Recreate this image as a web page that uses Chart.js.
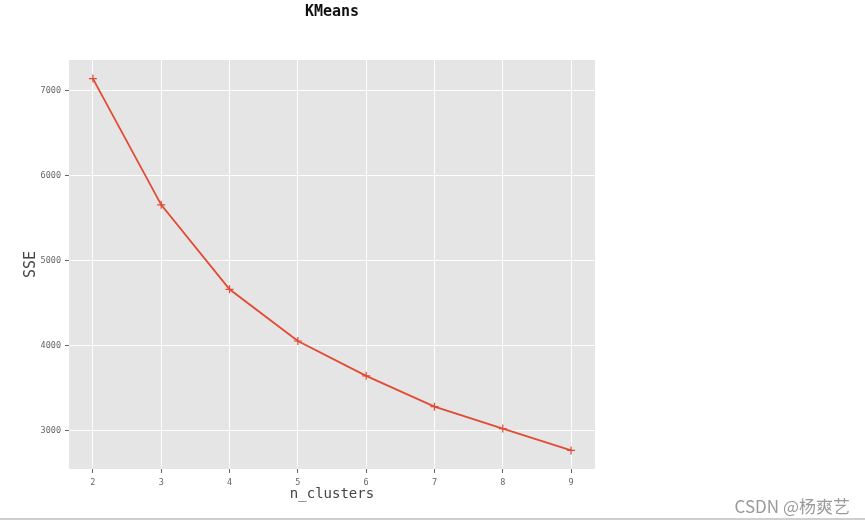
<!DOCTYPE html>
<html lang="en">
  <head>
    <meta charset="UTF-8" />
    <title>KMeans</title>
    <script src="https://cdn.jsdelivr.net/npm/chart.js@4"></script>
    <style>
      body { margin: 0; background: #fff; }
      #wrap { position: relative; width: 865px; height: 525px; overflow: hidden; }
      #mark { position: absolute; right: 15px; top: 493px; font: 17px "Noto Sans CJK SC", "DejaVu Sans", sans-serif; color: #9a9a9a; }
      #rule { position: absolute; left: 0; top: 518px; width: 865px; height: 2px; background: #cfcfcf; }
    </style>
  </head>
  <body>
    <div id="wrap">
      <canvas id="myChart" width="865" height="525"></canvas>
      <div id="mark">CSDN @杨爽艺</div>
      <div id="rule"></div>
    </div>

    <script>
      // elbow curve
      const nClusters = [2, 3, 4, 5, 6, 7, 8, 9];
      const sse = [7140, 5655, 4661, 4053, 3643, 3281, 3023, 2766];
      const xTicks = [2, 3, 4, 5, 6, 7, 8, 9];
      const yTicks = [3000, 4000, 5000, 6000, 7000];

      // matplotlib-like 5% margins
      const xPad = (Math.max(...nClusters) - Math.min(...nClusters)) * 0.05;
      const yPad = (Math.max(...sse) - Math.min(...sse)) * 0.05;

      const plotBg = {
        id: 'plotBg',
        beforeDraw(chart) {
          const { ctx, chartArea: a } = chart;
          ctx.save();
          ctx.fillStyle = '#e5e5e5';
          ctx.fillRect(a.left, a.top, a.right - a.left, a.bottom - a.top);
          ctx.restore();
        }
      };

      const tickFont = { family: 'DejaVu Sans Mono', size: 8.5 };

      new Chart(document.getElementById('myChart'), {
        type: 'line',
        data: {
          datasets: [{
            data: nClusters.map((n, i) => ({ x: n, y: sse[i] })),
            borderColor: '#e24a33',
            backgroundColor: '#e24a33',
            borderWidth: 1.8,
            tension: 0,
            pointStyle: 'cross',
            pointRadius: 4,
            pointBorderWidth: 1.2,
            pointHoverRadius: 4
          }]
        },
        options: {
          responsive: false,
          animation: false,
          layout: { padding: { right: 270, top: 0, bottom: 0, left: 0 } },
          plugins: {
            legend: { display: false },
            tooltip: { enabled: false },
            title: {
              display: true,
              text: 'KMeans',
              fullSize: false,
              color: '#111',
              font: { family: 'DejaVu Sans Mono', size: 15, weight: 'bold', lineHeight: 1.2 },
              padding: { top: 3, bottom: 39 }
            }
          },
          scales: {
            x: {
              type: 'linear',
              min: Math.min(...nClusters) - xPad,
              max: Math.max(...nClusters) + xPad,
              afterBuildTicks: s => { s.ticks = xTicks.map(v => ({ value: v })); },
              afterFit: s => { s.height = 56; },
              border: { display: false },
              grid: { color: '#ffffff', lineWidth: 1, tickColor: '#666', tickLength: 4 },
              ticks: { color: '#666', font: tickFont, padding: 5, maxRotation: 0, callback: v => String(v) },
              title: {
                display: true,
                text: 'n_clusters',
                color: '#444',
                font: { family: 'DejaVu Sans Mono', size: 14, lineHeight: 1.2 },
                padding: { top: 0, bottom: 22 }
              }
            },
            y: {
              type: 'linear',
              min: Math.min(...sse) - yPad,
              max: Math.max(...sse) + yPad,
              afterBuildTicks: s => { s.ticks = yTicks.map(v => ({ value: v })); },
              afterFit: s => { s.width = 69; },
              border: { display: false },
              grid: { color: '#ffffff', lineWidth: 1, tickColor: '#666', tickLength: 4 },
              ticks: { color: '#666', font: tickFont, padding: 4, callback: v => String(v) },
              title: {
                display: true,
                text: 'SSE',
                color: '#444',
                font: { family: 'DejaVu Sans Mono', size: 15, lineHeight: 1.2 },
                padding: { top: 22, bottom: 0 }
              }
            }
          }
        },
        plugins: [plotBg]
      });
    </script>
  </body>
</html>
